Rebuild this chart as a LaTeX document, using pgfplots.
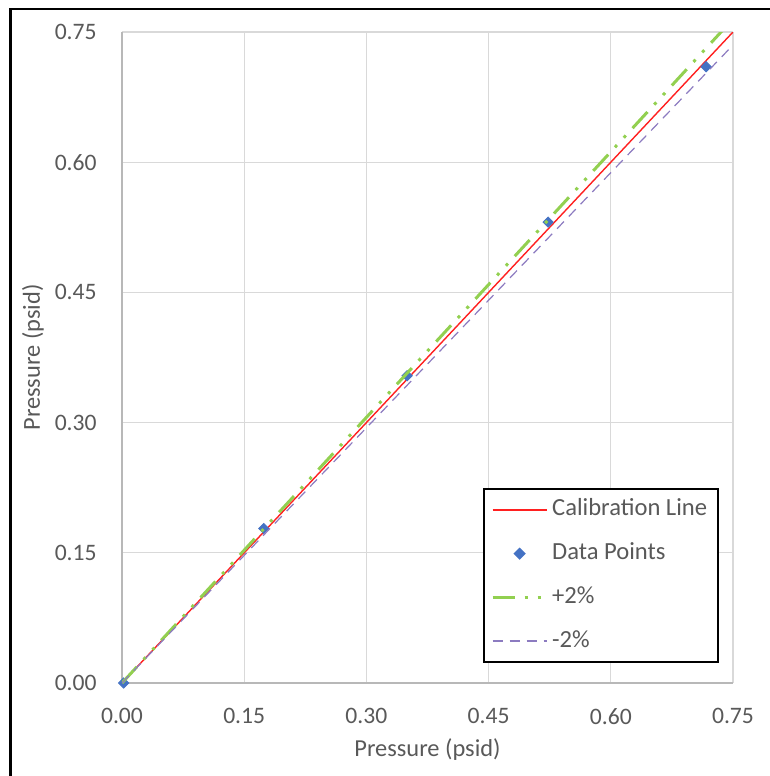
\documentclass[border=0pt]{standalone}
\usepackage{fontspec}
\setmainfont{Carlito}
\usepackage{pgfplots}
\pgfplotsset{compat=1.18}

\definecolor{txtgray}{HTML}{595959}
\definecolor{gridgray}{HTML}{D9D9D9}
\definecolor{calred}{HTML}{FF2020}
\definecolor{ptblue}{HTML}{4472C4}
\definecolor{plusgreen}{HTML}{92D050}
\definecolor{minuspurple}{HTML}{8C7BC0}

\begin{document}
\begin{tikzpicture}
\useasboundingbox (-61pt,-46.5pt) rectangle (324pt,341.5pt);
\draw[line width=1.25pt] (-55.75pt,-60pt) -- (-55.75pt,337pt) -- (340pt,337pt);
\begin{axis}[
    scale only axis,
    width=305.5pt, height=325.5pt,
    xmin=0, xmax=0.75, ymin=0, ymax=0.75,
    xtick={0,0.15,0.30,0.45,0.60,0.75},
    ytick={0,0.15,0.30,0.45,0.60,0.75},
    grid=major,
    major grid style={draw=gridgray, line width=0.6pt},
    major tick length=0pt,
    axis line style={draw=black!28, line width=0.9pt},
    axis x line*=bottom, axis y line*=left,
    font=\fontsize{11.8}{14}\selectfont,
    tick label style={text=txtgray, inner sep=0pt},
    /pgf/number format/assume math mode=true,
    /pgf/number format/.cd, fixed, fixed zerofill, precision=2, /pgfplots/.cd,
    xticklabel style={anchor=north, yshift=-12.5pt},
    yticklabel style={anchor=east, xshift=-12.5pt},
    xlabel={Pressure (psid)}, ylabel={Pressure (psid)},
    label style={text=txtgray, font=\fontsize{12.2}{14}\selectfont},
    xlabel style={at={(axis description cs:0.5,-0.1029)}, anchor=center},
    ylabel style={at={(axis description cs:-0.1457,0.5)}, anchor=center},
    clip mode=individual,
    legend cell align=left,
    legend style={at={(0.977,0.031)}, anchor=south east, draw=black, line width=0.75pt,
        inner xsep=3.5pt, inner ysep=3pt, row sep=6.85pt, text=txtgray,
        font=\fontsize{12.3}{14}\selectfont,
        nodes={text height=8.5pt, text depth=2.5pt, inner sep=2pt}},
    legend image code/.code={\draw[mark repeat=2, mark phase=2, #1]
        plot coordinates {(0pt,0pt) (13.5pt,0pt) (27pt,0pt)};},
]
\addplot[calred, line width=0.7pt] coordinates {(0,0) (0.75,0.75)};
\addlegendentry{Calibration Line}

\addplot[only marks, mark=square*, mark size=1.8pt,
    mark options={rotate=45, fill=ptblue, draw=ptblue}] coordinates {
    (0.002,0.000)
    (0.174,0.178)
    (0.350,0.354)
    (0.523,0.531)
    (0.717,0.710)
};
\addlegendentry{Data Points}

\addplot[plusgreen, line width=1.5pt,
    dash pattern=on 11pt off 5pt on 1.5pt off 5pt on 1.5pt off 5pt] coordinates {(0,0) (0.75,0.765)};
\addlegendentry{+2\%}

\addplot[minuspurple, line width=0.6pt, dash pattern=on 5pt off 3.5pt] coordinates {(0,0) (0.75,0.735)};
\addlegendentry{-2\%}
\end{axis}
\end{tikzpicture}
\end{document}
